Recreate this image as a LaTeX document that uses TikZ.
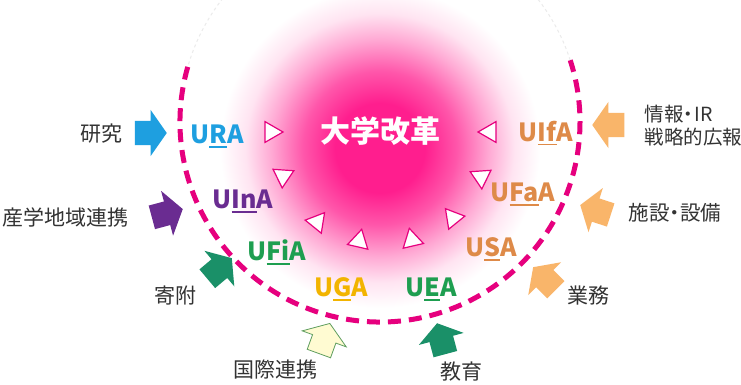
\documentclass[tikz,border=0pt]{standalone}
\usepackage{fontspec}
\setmainfont{Noto Sans CJK JP}
\usetikzlibrary{shapes.geometric,shapes.arrows}

\definecolor{glowpink}{HTML}{FF1E8E}
\definecolor{ringpink}{HTML}{E6007E}
\definecolor{txtgray}{HTML}{333333}
\definecolor{cBlue}{HTML}{1E9FE0}
\definecolor{cPurple}{HTML}{6A2C91}
\definecolor{cGreen}{HTML}{1E9E50}
\definecolor{cDkGreen}{HTML}{1A9068}
\definecolor{cGold}{HTML}{F2B400}
\definecolor{cOrange}{HTML}{DE8A48}
\definecolor{cLtOrange}{HTML}{F9B56A}
\definecolor{cCream}{HTML}{FFFBD2}
\definecolor{cCreamEdge}{HTML}{5E9E5E}

\pgfdeclareradialshading{pinkglow}{\pgfpoint{0bp}{0bp}}{%
  color(0bp)=(glowpink); color(7bp)=(glowpink); color(12bp)=(glowpink!75!white);
  color(17bp)=(glowpink!38!white); color(21bp)=(glowpink!12!white); color(25bp)=(white);
  color(50bp)=(white)}

\newcommand{\ulmark}[1]{\setbox0\hbox{#1}\rlap{\raisebox{-4.5pt}{\rule{\wd0}{1.6pt}}}\box0}

\begin{document}
\begin{tikzpicture}[x=1pt, y=-1pt,
    tri/.style={regular polygon, regular polygon sides=3, draw=ringpink, line width=1.2pt,
        fill=white, minimum size=24pt, inner sep=0pt},
    blockarrow/.style={single arrow, single arrow head extend=11pt, single arrow tip angle=110,
        minimum height=32pt, inner xsep=0pt, inner ysep=12pt, anchor=tip},
    unit/.style={font=\fontsize{25}{30}\selectfont\bfseries, anchor=base},
    field/.style={font=\fontsize{21}{25}\selectfont, text=txtgray}]
    \useasboundingbox (0,0) rectangle (741,385);
    \fill[white] (0,0) rectangle (741,385);
    \clip (0,0) rectangle (741,385);

    % Glow
    \shade[shading=pinkglow] (380,148) circle [radius=160pt];

    % Ring
    \coordinate (ctr) at (380,122);
    \draw[black!8, line width=1pt, dash pattern=on 3pt off 3pt] (ctr) ++(18:200pt) arc[start angle=18, end angle=164, radius=200pt];
    \draw[ringpink, line width=5pt, dash pattern=on 13pt off 8pt] (ctr) ++(164:200pt) arc[start angle=164, end angle=378, radius=200pt];

    % Triangles
    \node[tri, rotate=-90] (t1) at (271,132) {};
    \node[tri, rotate=-64] (t2) at (283,176) {};
    \node[tri, rotate=-39] (t3) at (317,222) {};
    \node[tri, rotate=-13] (t4) at (359,241) {};
    \node[tri, rotate=13] (t5) at (412,240) {};
    \node[tri, rotate=39] (t6) at (453,218) {};
    \node[tri, rotate=64] (t7) at (481,177) {};
    \node[tri, rotate=90] (t8) at (490,132) {};

    % Center
    \node[text=white, font=\fontsize{30}{36}\selectfont\bfseries] (kaikaku) at (380,131) {大学改革};

    % Units
    \node[unit, text=cBlue] (ura) at (217,143) {U\ulmark{R}A};
    \node[unit, text=cPurple] (uina) at (243,208) {U\ulmark{In}A};
    \node[unit, text=cGreen] (ufia) at (277,260) {U\ulmark{Fi}A};
    \node[unit, text=cGold] (uga) at (341,296) {U\ulmark{G}A};
    \node[unit, text=cGreen] (uea) at (431,296) {U\ulmark{E}A};
    \node[unit, text=cOrange] (usa) at (491,256) {U\ulmark{S}A};
    \node[unit, text=cOrange] (ufaa) at (523,201) {U\ulmark{Fa}A};
    \node[unit, text=cOrange] (uifa) at (546,141) {U\ulmark{If}A};

    % Arrows
    \node[blockarrow, fill=cBlue, rotate=0] (akenkyu) at (167,133) {};
    \node[blockarrow, fill=cPurple, rotate=15] (asangaku) at (183,209) {};
    \node[blockarrow, fill=cDkGreen, rotate=40] (akifu) at (232,258) {};
    \node[blockarrow, fill=cCream, draw=cCreamEdge, line width=0.8pt, rotate=70] (akokusai) at (330,323) {};
    \node[blockarrow, fill=cDkGreen, rotate=105] (akyoiku) at (437,323) {};
    \node[blockarrow, fill=cLtOrange, rotate=135] (agyomu) at (533,267) {};
    \node[blockarrow, fill=cLtOrange, rotate=162] (ashisetsu) at (580,205) {};
    \node[blockarrow, fill=cLtOrange, rotate=180] (ajoho) at (592,125) {};

    % Fields
    \node[field] (kenkyu) at (101,134) {研究};
    \node[field] (sangaku) at (65,217) {産学地域連携};
    \node[field] (kifu) at (175,296) {寄附};
    \node[field] (kokusai) at (275,370) {国際連携};
    \node[field] (kyoiku) at (461,372) {教育};
    \node[field] (gyomu) at (588,296) {業務};
    \node[field, font=\fontsize{20.5}{24}\selectfont] (shisetsu) at (675,213) {施設\kern-0.25em・\kern-0.25em設備};
    \node[field, font=\fontsize{19.5}{23}\selectfont, align=left, anchor=west] (joho) at (641,126) {情報\kern-0.25em・\kern-0.2em IR\\戦略的広報};
\end{tikzpicture}
\end{document}
